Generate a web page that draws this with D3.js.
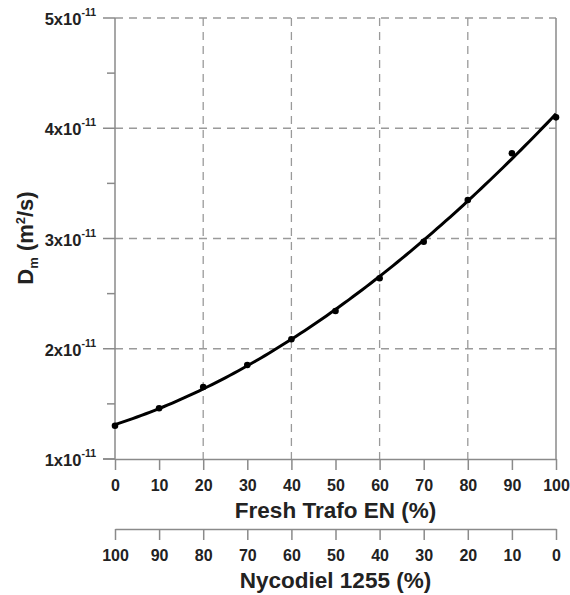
<!DOCTYPE html>
<html><head><meta charset="utf-8">
<script src="https://cdn.jsdelivr.net/npm/d3@7"></script>
<style>body{margin:0;background:#fff}text{font-family:"Liberation Sans",Arial,sans-serif;font-weight:bold;fill:#222}</style>
</head><body><svg id="c" width="570" height="595"></svg>
<script>
const freshTrafo = [0,10,20,30,40,50,60,70,80,90,100];
const dm = [1.302,1.46,1.653,1.853,2.086,2.342,2.64,2.971,3.349,3.773,4.099]; // x1e-11 m2/s
const xTicks = [0,10,20,30,40,50,60,70,80,90,100];
const nycoTicks = [100,90,80,70,60,50,40,30,20,10,0];
const yMajor = [1,2,3,4,5];
const yMinor = [1.5,2.5,3.5,4.5];
const xGrid = [20,40,60,80];
const yGrid = [2,3,4,5];

const svg = d3.select("#c");
const L=115,R=556,T=18,B=459;
const x = d3.scaleLinear().domain([0,100]).range([L,R]);
const y = d3.scaleLinear().domain([1,5]).range([B,T]);
const x2 = d3.scaleLinear().domain([100,0]).range([L,R]);
const axisCol="#8a8a8a", gridCol="#9a9a9a";
const tickFont = 16;

// grid
svg.append("g").selectAll("line").data(xGrid).join("line")
  .attr("x1",d=>x(d)).attr("x2",d=>x(d)).attr("y1",T).attr("y2",B)
  .attr("stroke",gridCol).attr("stroke-width",1.3).attr("stroke-dasharray","8,6");
svg.append("g").selectAll("line").data(yGrid).join("line")
  .attr("x1",L).attr("x2",R).attr("y1",d=>y(d)).attr("y2",d=>y(d))
  .attr("stroke",gridCol).attr("stroke-width",1.3).attr("stroke-dasharray","8,6");
svg.append("line").attr("x1",R).attr("x2",R).attr("y1",T).attr("y2",B).attr("stroke",axisCol).attr("stroke-width",1.5);

function styleAxis(g){
  g.select(".domain").attr("stroke",axisCol).attr("stroke-width",1.5);
  g.selectAll(".tick line").attr("stroke",axisCol).attr("stroke-width",1.5);
  g.selectAll(".tick text").attr("font-size",tickFont).attr("font-family","Liberation Sans").attr("font-weight","bold").attr("fill","#222");
}
const gx = svg.append("g").attr("transform",`translate(0,${B})`)
  .call(d3.axisBottom(x).tickValues(xTicks).tickSize(11).tickPadding(10).tickSizeOuter(0));
styleAxis(gx);
svg.append("line").attr("x1",103).attr("x2",L).attr("y1",B).attr("y2",B).attr("stroke",axisCol).attr("stroke-width",1.5);

const gx2 = svg.append("g").attr("transform","translate(0,529)")
  .call(d3.axisBottom(x2).tickValues(nycoTicks).tickSize(11).tickPadding(10).tickSizeOuter(0));
styleAxis(gx2);

// y axis
svg.append("line").attr("x1",L).attr("x2",L).attr("y1",T).attr("y2",B).attr("stroke",axisCol).attr("stroke-width",1.5);
svg.append("g").selectAll("line").data(yMajor).join("line")
  .attr("x1",103).attr("x2",L).attr("y1",d=>y(d)).attr("y2",d=>y(d)).attr("stroke",axisCol).attr("stroke-width",1.5);
svg.append("g").selectAll("line").data(yMinor).join("line")
  .attr("x1",107).attr("x2",L).attr("y1",d=>y(d)).attr("y2",d=>y(d)).attr("stroke",axisCol).attr("stroke-width",1.5);
const yl = svg.append("g").selectAll("text").data(yMajor).join("text")
  .attr("x",96).attr("y",d=>y(d)+7).attr("text-anchor","end").attr("font-size",16.5);
yl.append("tspan").text(d=>d+"x10");
yl.append("tspan").attr("font-size",10.5).attr("dy",-9).text("-11");

// titles
svg.append("text").attr("x",x(50)).attr("y",518).attr("text-anchor","middle").attr("font-size",22.5).text("Fresh Trafo EN (%)");
svg.append("text").attr("x",x(50)).attr("y",588).attr("text-anchor","middle").attr("font-size",22.5).text("Nycodiel 1255 (%)");
const yt = svg.append("text").attr("transform","translate(33,238) rotate(-90)").attr("text-anchor","middle").attr("font-size",22);
yt.append("tspan").text("D");
yt.append("tspan").attr("font-size",13).attr("dy",5).text("m");
yt.append("tspan").attr("dy",-5).text(" (m");
yt.append("tspan").attr("font-size",13).attr("dy",-8).text("2");
yt.append("tspan").attr("dy",8).text("/s)");

// least-squares cubic fit of the measured points (fit line)
const pts = freshTrafo.map((v,i)=>[v,dm[i]]);
function polyfit(xs, ys, deg){
  const n=deg+1, A=[...Array(n)].map(()=>Array(n+1).fill(0));
  xs.forEach((xv,k)=>{ const t=xv/100;
    for(let i=0;i<n;i++){ for(let j=0;j<n;j++) A[i][j]+=Math.pow(t,i+j); A[i][n]+=ys[k]*Math.pow(t,i); } });
  for(let i=0;i<n;i++){ let p=i; for(let r=i+1;r<n;r++) if(Math.abs(A[r][i])>Math.abs(A[p][i])) p=r;
    [A[i],A[p]]=[A[p],A[i]];
    for(let r=0;r<n;r++) if(r!==i){ const f=A[r][i]/A[i][i]; for(let c=i;c<=n;c++) A[r][c]-=f*A[i][c]; } }
  return A.map((row,i)=>row[n]/row[i]);
}
const coef = polyfit(freshTrafo, dm, 3);
const fitX = d3.range(0,100.01,1);
const fitLine = fitX.map(v=>[v, coef.reduce((s,c,i)=>s+c*Math.pow(v/100,i),0)]);
svg.append("path").datum(fitLine)
  .attr("d",d3.line().x(d=>x(d[0])).y(d=>y(d[1])))
  .attr("fill","none").attr("stroke","#000").attr("stroke-width",3);
svg.append("g").selectAll("circle").data(pts).join("circle")
  .attr("cx",d=>x(d[0])).attr("cy",d=>y(d[1])).attr("r",3.3).attr("fill","#000");
</script></body></html>
